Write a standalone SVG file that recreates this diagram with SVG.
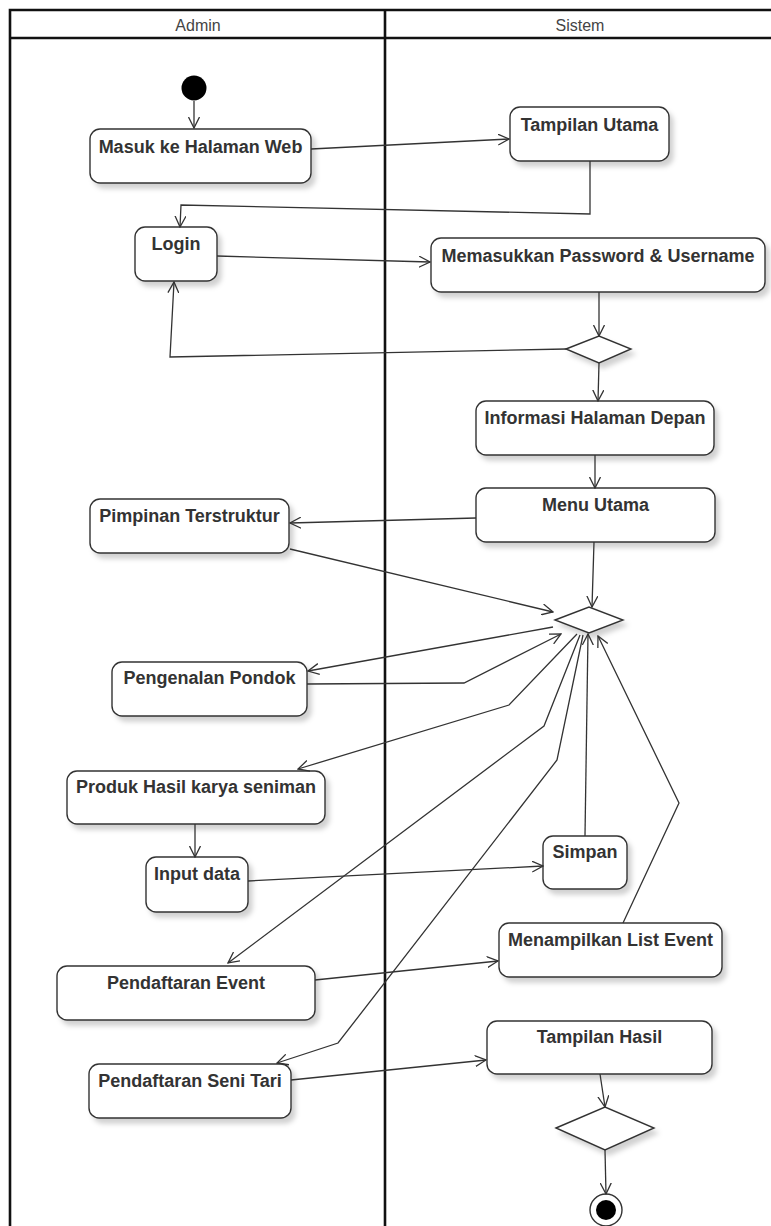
<svg xmlns="http://www.w3.org/2000/svg" width="771" height="1226" viewBox="0 0 771 1226">
<style>
.lane{fill:none;stroke:#111;stroke-width:2.6}
.hdr{font-family:"Liberation Sans",Arial,sans-serif;font-size:16px;fill:#444;text-anchor:middle}
.box{fill:#fff;stroke:#333;stroke-width:1.4;filter:url(#sh)}
.lbl{font-family:"Liberation Sans",Arial,sans-serif;font-size:18px;font-weight:bold;fill:#333;text-anchor:middle}
.dia{fill:#fff;stroke:#333;stroke-width:1.4;filter:url(#sh)}
.con{fill:none;stroke:#333;stroke-width:1.3;marker-end:url(#ah)}
</style>
<defs>
<filter id="sh" x="-10%" y="-20%" width="130%" height="150%">
<feDropShadow dx="4" dy="5" stdDeviation="2.5" flood-color="#000" flood-opacity="0.18"/>
</filter>
<marker id="ah" viewBox="0 0 12 12" refX="11" refY="6" markerWidth="12" markerHeight="12" markerUnits="userSpaceOnUse" orient="auto">
<path d="M0,0.5 L11,6 L0,11.5" fill="none" stroke="#333" stroke-width="1.3"/>
</marker>
</defs>
<rect width="771" height="1226" fill="#fff"/>
<g id="lanes">
<path class="lane" d="M10,1230 V10 H775 M10,38 H775 M385,10 V1230"/>
<text class="hdr" x="198" y="31">Admin</text>
<text class="hdr" x="580" y="31">Sistem</text>
</g>
<g id="start"><circle cx="194" cy="88" r="12.5" fill="#000"/></g>
<g id="n_masuk"><rect class="box" x="90" y="129" width="221" height="54" rx="10"/><text class="lbl" x="200.5" y="153">Masuk ke Halaman Web</text></g>
<g id="n_tampilan_utama"><rect class="box" x="510" y="107" width="159" height="54" rx="10"/><text class="lbl" x="589.5" y="131">Tampilan Utama</text></g>
<g id="n_login"><rect class="box" x="135" y="227" width="82" height="54" rx="10"/><text class="lbl" x="176" y="250">Login</text></g>
<g id="n_memasukkan"><rect class="box" x="431" y="238" width="334" height="54" rx="10"/><text class="lbl" x="598" y="262">Memasukkan Password &amp; Username</text></g>
<g id="d1"><polygon class="dia" points="566,349 599,336 631,349 599,363"/></g>
<g id="n_informasi"><rect class="box" x="476" y="401" width="238" height="54" rx="10"/><text class="lbl" x="595" y="424">Informasi Halaman Depan</text></g>
<g id="n_menu"><rect class="box" x="476" y="488" width="239" height="54" rx="10"/><text class="lbl" x="595.5" y="511">Menu Utama</text></g>
<g id="n_pimpinan"><rect class="box" x="90" y="499" width="199" height="54" rx="10"/><text class="lbl" x="189.5" y="522">Pimpinan Terstruktur</text></g>
<g id="d2"><polygon class="dia" points="555,620 589,607 623,620 589,633"/></g>
<g id="n_pengenalan"><rect class="box" x="112" y="662" width="195" height="54" rx="10"/><text class="lbl" x="209.5" y="684">Pengenalan Pondok</text></g>
<g id="n_produk"><rect class="box" x="67" y="771" width="258" height="53" rx="10"/><text class="lbl" x="196" y="793">Produk Hasil karya seniman</text></g>
<g id="n_input"><rect class="box" x="146" y="857" width="102" height="55" rx="10"/><text class="lbl" x="197" y="880">Input data</text></g>
<g id="n_simpan"><rect class="box" x="543" y="836" width="84" height="53" rx="10"/><text class="lbl" x="585" y="858">Simpan</text></g>
<g id="n_menampilkan"><rect class="box" x="499" y="923" width="223" height="54" rx="10"/><text class="lbl" x="610.5" y="946">Menampilkan List Event</text></g>
<g id="n_pendaftaran_event"><rect class="box" x="57" y="966" width="258" height="54" rx="10"/><text class="lbl" x="186" y="989">Pendaftaran Event</text></g>
<g id="n_tampilan_hasil"><rect class="box" x="487" y="1021" width="225" height="53" rx="10"/><text class="lbl" x="599.5" y="1043">Tampilan Hasil</text></g>
<g id="n_seni_tari"><rect class="box" x="89" y="1064" width="202" height="54" rx="10"/><text class="lbl" x="190" y="1087">Pendaftaran Seni Tari</text></g>
<g id="d3"><polygon class="dia" points="556,1128 605,1107 654,1128 605,1150"/></g>
<g id="end"><circle cx="606" cy="1210" r="16" fill="#fff" stroke="#333" stroke-width="1.4"/><circle cx="606" cy="1210" r="10" fill="#000"/></g>
<g id="connectors">
<path class="con" d="M194,101 V128"/>
<path class="con" d="M311,149 L509,139"/>
<path class="con" d="M590,161 V214 L181,205 L180,227"/>
<path class="con" d="M217,256 L430,262"/>
<path class="con" d="M599,292 V336"/>
<path class="con" d="M566,349 L170,357 L174,282"/>
<path class="con" d="M599,363 L598,401"/>
<path class="con" d="M595,455 V488"/>
<path class="con" d="M476,518 L290,523"/>
<path class="con" d="M290,549 L553,612"/>
<path class="con" d="M594,542 L592,607"/>
<path class="con" d="M553,627 L308,671"/>
<path class="con" d="M307,684 L464,683 L561,634"/>
<path class="con" d="M577,634 L509,705 L298,769"/>
<path class="con" d="M195,824 V857"/>
<path class="con" d="M248,881 L543,866"/>
<path class="con" d="M585,836 L588,634"/>
<path class="con" d="M580,635 L544,726 L228,963"/>
<path class="con" d="M583,635 L557,760 L338,1043 L277,1063"/>
<path class="con" d="M315,980 L498,961"/>
<path class="con" d="M623,923 L679,803 L598,636"/>
<path class="con" d="M291,1080 L486,1060"/>
<path class="con" d="M600,1074 L605,1107"/>
<path class="con" d="M605,1150 L606,1194"/>
</g>
</svg>
